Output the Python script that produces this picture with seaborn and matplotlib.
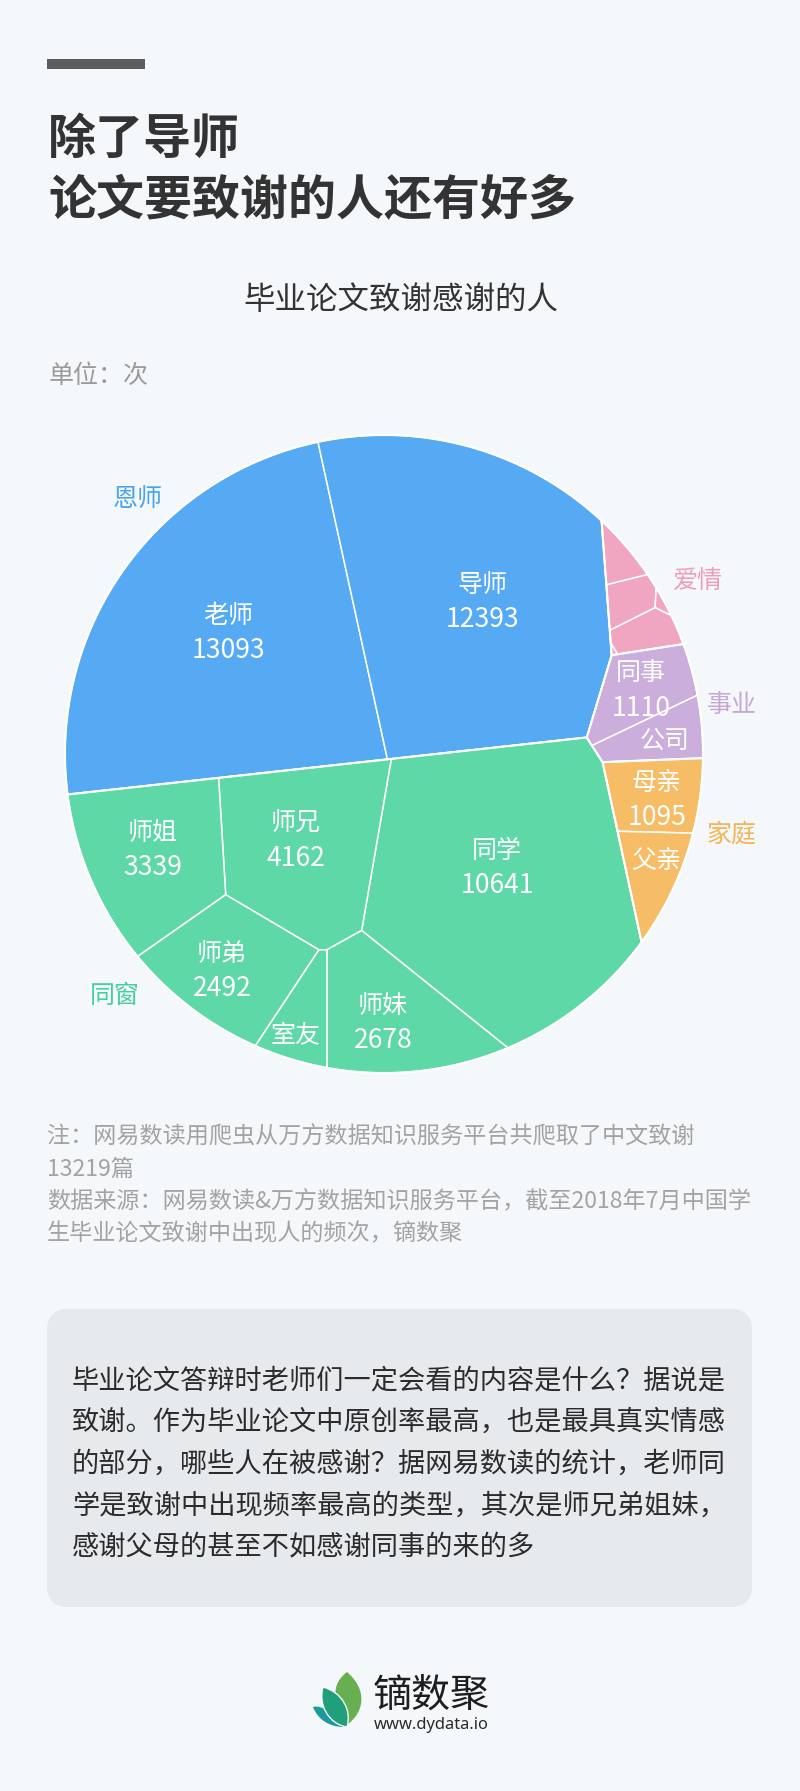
import numpy as np
import pandas as pd
import matplotlib
matplotlib.use("Agg")
import matplotlib.pyplot as plt
from matplotlib.patches import FancyBboxPatch, PathPatch, Polygon, Rectangle
from matplotlib.path import Path
import seaborn as sns

# --- data (small unlabeled cells are estimated)
group_names = ["恩师", "同窗", "爱情", "事业", "家庭"]
teacher_names = ["老师", "导师"]
teacher_values = [13093, 12393]
peer_names = ["同学", "师兄", "师姐", "师妹", "师弟", "室友"]
peer_values = [10641, 4162, 3339, 2678, 2492, 800]
love_names = ["", "", "", "", ""]
love_values = [245, 320, 30, 375, 6]
work_names = ["同事", "公司"]
work_values = [1110, 745]
family_names = ["母亲", "父亲"]
family_values = [1095, 785]

title_lines = ["除了导师", "论文要致谢的人还有好多"]
chart_title = "毕业论文致谢感谢的人"
unit_text = "单位：次"
note_lines = [
    "注：网易数读用爬虫从万方数据知识服务平台共爬取了中文致谢",
    "13219篇",
    "数据来源：网易数读&万方数据知识服务平台，截至2018年7月中国学",
    "生毕业论文致谢中出现人的频次，镝数聚",
]
body_lines = [
    "毕业论文答辩时老师们一定会看的内容是什么？据说是",
    "致谢。作为毕业论文中原创率最高，也是最具真实情感",
    "的部分，哪些人在被感谢？据网易数读的统计，老师同",
    "学是致谢中出现频率最高的类型，其次是师兄弟姐妹，",
    "感谢父母的甚至不如感谢同事的来的多",
]

# --- layout (pixels of the 800x1791 page)
BG = "#F4F8FB"
CENTER = np.array([384.0, 754.0])
RADIUS = 319.0
palette = sns.color_palette(["#55AAF3", "#5FD8A8", "#F0A6C0", "#CBAEDC", "#F6BC66"])
label_palette = sns.color_palette(["#48A4F0", "#45CF9C", "#F09DBB", "#C8A6DA", "#F4B557"])

# voronoi treemap sites; cell sizes are solved from the values
group_sites = [(340, 590), (370, 863), (632, 568), (650, 684), (654.7, 801.3)]
child_sites = {
    "恩师": [(215, 620), (480, 562)],
    "同窗": [(488, 873), (297, 840), (154.5, 848.7), (386, 1000), (229, 955), (297, 1000)],
    "爱情": [(620, 560), (630, 600), (664, 601.8), (647.5, 635), (617.5, 653)],
    "事业": [(640, 670), (672, 737)],
    "家庭": [(652, 795), (650, 875)],
}
label_pos = {
    "老师": (228, 633), "导师": (482, 602), "同学": (497, 868), "师兄": (296, 841),
    "师姐": (153, 850), "师妹": (383, 1023), "师弟": (222, 971), "室友": (296, 1036),
    "同事": (641, 691), "公司": (665, 741), "母亲": (657, 800), "父亲": (656, 861),
}
group_label_pos = {"恩师": (138, 499), "同窗": (115, 996), "爱情": (698, 581),
                   "事业": (732, 705), "家庭": (731, 835)}

df = pd.DataFrame({
    "group": np.repeat(group_names, [2, 6, 5, 2, 2]),
    "name": teacher_names + peer_names + love_names + work_names + family_names,
    "value": teacher_values + peer_values + love_values + work_values + family_values,
})


def clip(poly, normal, limit):
    if len(poly) == 0:
        return poly
    d = poly @ normal - limit
    keep = d <= 0
    if keep.all():
        return poly
    if not keep.any():
        return poly[:0]
    nxt = np.roll(np.arange(len(poly)), -1)
    cross = np.where(keep != keep[nxt])[0]
    t = d[cross] / (d[cross] - d[nxt[cross]])
    new_pts = poly[cross] + (poly[nxt[cross]] - poly[cross]) * t[:, None]
    order = np.concatenate([np.where(keep)[0].astype(float), cross + 0.5])
    pts = np.vstack([poly[keep], new_pts])
    return pts[np.argsort(order)]


def area(poly):
    if len(poly) < 3:
        return 0.0
    x, y = poly[:, 0], poly[:, 1]
    return 0.5 * abs(np.dot(x, np.roll(y, -1)) - np.dot(y, np.roll(x, -1)))


def power_cells(parent, sites, w):
    cells = []
    for i in range(len(sites)):
        poly = parent
        for j in range(len(sites)):
            if i == j:
                continue
            normal = 2 * (sites[j] - sites[i])
            limit = sites[j] @ sites[j] - w[j] - sites[i] @ sites[i] + w[i]
            poly = clip(poly, normal, limit)
        cells.append(poly)
    return cells


def solve_cells(parent, sites, values):
    # newton steps on the power weights until cell areas follow the values
    sites = np.asarray(sites, dtype=float)
    values = np.asarray(values, dtype=float)
    target = values / values.sum() * area(parent)
    w = np.zeros(len(sites))
    for _ in range(25):
        areas = np.array([area(c) for c in power_cells(parent, sites, w)])
        err = target - areas
        if np.abs(err).max() < 1:
            break
        if (areas == 0).any():
            w[areas == 0] += 100
            continue
        jac = np.zeros((len(sites), len(sites)))
        for k in range(len(sites)):
            w2 = w.copy()
            w2[k] += 10
            a2 = np.array([area(c) for c in power_cells(parent, sites, w2)])
            jac[:, k] = (a2 - areas) / 10
        step = np.linalg.lstsq(jac, err, rcond=1e-6)[0]
        for damp in [1, 0.5, 0.25, 0.1, 0.05]:
            trial = w + damp * step
            a3 = np.array([area(c) for c in power_cells(parent, sites, trial)])
            if np.abs(target - a3).sum() < np.abs(err).sum():
                w = trial
                break
    return power_cells(parent, sites, w)


sns.set_theme(style="white")
plt.rcParams["font.family"] = ["Noto Sans CJK SC", "DejaVu Sans"]

fig = plt.figure(figsize=(8.0, 17.91), dpi=100, facecolor=BG)
ax = fig.add_axes([0, 0, 1, 1])
ax.set_xlim(0, 800)
ax.set_ylim(1791, 0)
ax.axis("off")

px = 0.72  # font size in points for a size given in pixels

# header
ax.add_patch(Rectangle((47, 59), 98, 10, color="#5A5C5E", lw=0))
ax.text(48, 139, title_lines[0], fontsize=48 * px, fontweight="bold", color="#333333", va="center")
ax.text(48, 201, title_lines[1], fontsize=48 * px, fontweight="bold", color="#333333", va="center")
ax.text(400.5, 300, chart_title, fontsize=31.5 * px, color="#333333", ha="center", va="center")
ax.text(49, 376, unit_text, fontsize=25 * px, color="#9A9A9A", va="center")

# treemap
theta = np.linspace(0, 2 * np.pi, 720, endpoint=False)
circle = CENTER + RADIUS * np.column_stack([np.cos(theta), np.sin(theta)])
group_totals = df.groupby("group", sort=False)["value"].sum()
group_cells = solve_cells(circle, group_sites, group_totals.values)

for g, g_poly, color, label_color in zip(group_names, group_cells, palette, label_palette):
    rows = df[df["group"] == g]
    cells = solve_cells(g_poly, child_sites[g], rows["value"].values)
    for cell in cells:
        if len(cell) >= 3:
            ax.add_patch(Polygon(cell, closed=True, facecolor=color, edgecolor="white", lw=1.1))
    ax.add_patch(Polygon(g_poly, closed=True, fill=False, edgecolor="white", lw=1.5))
    for name, value in zip(rows["name"], rows["value"]):
        if not name:
            continue
        x, y = label_pos[name]
        if value >= 1000:
            ax.text(x, y - 17.5, name, fontsize=25 * px, color="white", ha="center", va="center")
            ax.text(x, y + 17.5, str(value), fontsize=26.5 * px, color="white", ha="center", va="center")
        else:
            ax.text(x, y, name, fontsize=25 * px, color="white", ha="center", va="center")
    lx, ly = group_label_pos[g]
    ax.text(lx, ly, g, fontsize=25 * px, color=label_color, ha="center", va="center")

# notes
for y, line in zip([1137, 1169, 1202, 1234], note_lines):
    ax.text(47, y, line, fontsize=23.1 * px, color="#A3A3A3", va="center")

# text panel
ax.add_patch(FancyBboxPatch((57, 1319), 685, 278, boxstyle="round,pad=0,rounding_size=10",
                            mutation_aspect=1, facecolor="#E6EAED", edgecolor="#E6EAED", lw=14.4))
for y, line in zip([1381, 1422, 1464, 1506, 1548], body_lines):
    ax.text(72, y, line, fontsize=27.2 * px, color="#2B2B2B", va="center")

# logo
def leaf(p0, c1, c2, p1, c3, c4, color, edge=None):
    verts = [p0, c1, c2, p1, c3, c4, p0]
    codes = [Path.MOVETO, Path.CURVE4, Path.CURVE4, Path.CURVE4, Path.CURVE4, Path.CURVE4, Path.CURVE4]
    ax.add_patch(PathPatch(Path(verts, codes), facecolor=color, edgecolor=edge or color,
                           lw=1.0 if edge else 0))

leaf((313, 1707), (322, 1704), (338, 1716), (344, 1727), (330, 1727), (318, 1720), "#1C9A9A")
leaf((347, 1672), (368, 1690), (364, 1712), (348, 1724), (338, 1710), (326, 1688), "#68AF52")
leaf((323, 1687), (342, 1692), (352, 1710), (347, 1727), (328, 1724), (318, 1704), "#1FA07A", BG)
ax.text(431.5, 1696, "镝数聚", fontsize=39 * px, color="#1E1E1E", ha="center", va="center")
ax.text(431.5, 1725, "www.dydata.io", fontsize=16.5 * px, color="#2A2A2A", ha="center", va="center",
        family=["Noto Sans", "DejaVu Sans"], fontweight="medium")

fig.savefig("out.png", dpi=100, facecolor=BG)
